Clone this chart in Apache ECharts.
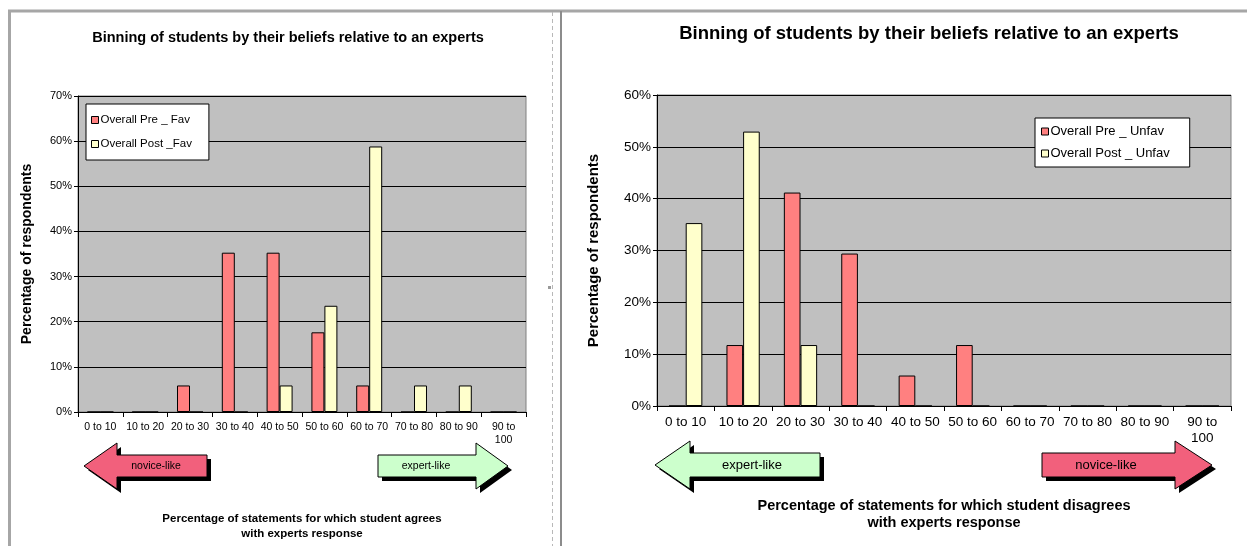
<!DOCTYPE html>
<html><head><meta charset="utf-8">
<script src="https://cdn.jsdelivr.net/npm/echarts@6/dist/echarts.min.js"></script>
<style>html,body{margin:0;padding:0;background:#fff}#chart{width:1247px;height:546px}</style>
</head><body><div id="chart"></div>
<script>
// Score bins (percentage of statements)
const bins = ['0 to 10','10 to 20','20 to 30','30 to 40','40 to 50','50 to 60','60 to 70','70 to 80','80 to 90','90 to 100'];
// Favourable (agree with experts) — percent of respondents
const preFav  = [0, 0, 5.88, 35.29, 35.29, 17.65, 5.88, 0, 0, 0];
const postFav = [0, 0, 0, 0, 5.88, 23.53, 58.82, 5.88, 5.88, 0];
// Unfavourable (disagree with experts) — percent of respondents
const preUnfav  = [0, 11.76, 41.18, 29.41, 5.88, 11.76, 0, 0, 0, 0];
const postUnfav = [35.29, 52.94, 11.76, 0, 0, 0, 0, 0, 0, 0];
const favTicks = { max: 70, interval: 10 };
const unfavTicks = { max: 60, interval: 10 };

const FONT = '"Liberation Sans", Arial, sans-serif';
const PRE = '#FF8080', POST = '#FFFFCC', NOVICE = '#F2607C', EXPERT = '#CCFFCC';

const chart = echarts.init(document.getElementById('chart'), null, { renderer: 'canvas' });

function binLabel(v) { return v.length > 8 ? v.replace(/ (\d+)$/, '\n$1') : v; }

function xAxisCfg(gridIndex, fs, name, nameGap, nameFs) {
  return {
    type: 'category', gridIndex, data: bins,
    axisLine: { lineStyle: { color: '#000', width: 1 } },
    axisTick: { show: true, length: 5, lineStyle: { color: '#000' } },
    axisLabel: { interval: 0, color: '#000', fontFamily: FONT, fontSize: fs, margin: 8, formatter: binLabel, lineHeight: fs + 3 },
    name, nameLocation: 'middle', nameGap,
    nameTextStyle: { color: '#000', fontFamily: FONT, fontSize: nameFs, fontWeight: 'bold', lineHeight: nameFs + 3 }
  };
}
function yAxisCfg(gridIndex, ticks, fs, nameGap, nameFs) {
  return {
    type: 'value', gridIndex, min: 0, max: ticks.max, interval: ticks.interval,
    axisLine: { show: true, lineStyle: { color: '#000', width: 1 } },
    axisTick: { show: true, length: 4, lineStyle: { color: '#000' } },
    axisLabel: { formatter: '{value}%', color: '#000', fontFamily: FONT, fontSize: fs, margin: 6 },
    splitLine: { show: true, lineStyle: { color: '#000', width: 1 } },
    name: 'Percentage of respondents', nameLocation: 'middle', nameGap,
    nameTextStyle: { color: '#000', fontFamily: FONT, fontSize: nameFs, fontWeight: 'bold' }
  };
}
function barSeries(name, data, color, idx) {
  return {
    type: 'bar', name, data, xAxisIndex: idx, yAxisIndex: idx,
    barGap: '0%', barCategoryGap: '42%',
    itemStyle: { color, borderColor: '#000', borderWidth: 1 },
    emphasis: { disabled: true }
  };
}

// Block arrow polygon: tip at tipX, head base at headX, tail end at tailX
function arrow(tipX, headX, tailX, yc, headHalf, bodyHalf, fill, label, fs, textX) {
  const pts = [[tipX, yc], [headX, yc - headHalf], [headX, yc - bodyHalf], [tailX, yc - bodyHalf],
               [tailX, yc + bodyHalf], [headX, yc + bodyHalf], [headX, yc + headHalf]];
  return [
    { type: 'polygon', shape: { points: pts.map(p => [p[0] + 4, p[1] + 4]) }, style: { fill: '#000' }, silent: true },
    { type: 'polygon', shape: { points: pts }, style: { fill, stroke: '#000', lineWidth: 1 }, silent: true },
    { type: 'text', x: textX, y: yc, style: { text: label, fill: '#000', font: fs + 'px ' + FONT, align: 'center', verticalAlign: 'middle' }, silent: true }
  ];
}

const frame = [
  { type: 'line', shape: { x1: 8, y1: 11, x2: 1247, y2: 11 }, style: { stroke: '#A6A6A6', lineWidth: 3 }, silent: true },
  { type: 'line', shape: { x1: 9.5, y1: 11, x2: 9.5, y2: 546 }, style: { stroke: '#A6A6A6', lineWidth: 3 }, silent: true },
  { type: 'line', shape: { x1: 552.5, y1: 12, x2: 552.5, y2: 546 }, style: { stroke: '#B8B8B8', lineWidth: 1, lineDash: [4, 3] }, silent: true },
  { type: 'line', shape: { x1: 561, y1: 11, x2: 561, y2: 546 }, style: { stroke: '#8C8C8C', lineWidth: 2 }, silent: true },
  { type: 'rect', shape: { x: 548, y: 286, width: 3, height: 3 }, style: { fill: '#999' }, silent: true }
];

const option = {
  animation: false,
  backgroundColor: '#fff',
  textStyle: { fontFamily: FONT },
  title: [
    { text: 'Binning of students by their beliefs relative to an experts', left: 283, top: 25, textAlign: 'center',
      textStyle: { fontFamily: FONT, fontSize: 14.5, fontWeight: 'bold', color: '#000' } },
    { text: 'Binning of students by their beliefs relative to an experts', left: 924, top: 19, textAlign: 'center',
      textStyle: { fontFamily: FONT, fontSize: 18.5, fontWeight: 'bold', color: '#000' } }
  ],
  legend: [
    { data: ['Overall Pre _ Fav', 'Overall Post _Fav'], orient: 'vertical', left: 86, top: 104,
      backgroundColor: '#fff', borderColor: '#000', borderWidth: 1, padding: [10, 17, 10, 5], itemGap: 12,
      itemWidth: 7, itemHeight: 7, icon: 'rect', itemStyle: { borderColor: '#000', borderWidth: 1 },
      textStyle: { fontFamily: FONT, fontSize: 11.5, color: '#000', padding: [0, 0, 0, -3] }, selectedMode: false },
    { data: ['Overall Pre _ Unfav', 'Overall Post _ Unfav'], orient: 'vertical', left: 1035, top: 118,
      backgroundColor: '#fff', borderColor: '#000', borderWidth: 1, padding: [7, 20, 7, 6], itemGap: 9,
      itemWidth: 7, itemHeight: 7, icon: 'rect', itemStyle: { borderColor: '#000', borderWidth: 1 },
      textStyle: { fontFamily: FONT, fontSize: 13, color: '#000', padding: [0, 0, 0, -3] }, selectedMode: false }
  ],
  grid: [
    { left: 78, top: 96, width: 448, height: 316, show: true, backgroundColor: '#C0C0C0', borderColor: '#808080', borderWidth: 1 },
    { left: 657, top: 95, width: 574, height: 311, show: true, backgroundColor: '#C0C0C0', borderColor: '#808080', borderWidth: 1 }
  ],
  xAxis: [
    xAxisCfg(0, 10.5, 'Percentage of statements for which student agrees\nwith experts response', 100, 11.5),
    xAxisCfg(1, 13.5, 'Percentage of statements for which student disagrees\nwith experts response', 91, 14.5)
  ],
  yAxis: [
    yAxisCfg(0, favTicks, 11, 44, 14),
    yAxisCfg(1, unfavTicks, 13.5, 56, 15)
  ],
  series: [
    barSeries('Overall Pre _ Fav', preFav, PRE, 0),
    barSeries('Overall Post _Fav', postFav, POST, 0),
    barSeries('Overall Pre _ Unfav', preUnfav, PRE, 1),
    barSeries('Overall Post _ Unfav', postUnfav, POST, 1)
  ],
  graphic: [].concat(
    frame,
    arrow(84, 117, 207, 466, 23, 11, NOVICE, 'novice-like', 10.5, 156),
    arrow(508, 476, 378, 466, 23, 11, EXPERT, 'expert-like', 10.5, 426),
    arrow(655, 690, 820, 465, 24, 12, EXPERT, 'expert-like', 13, 752),
    arrow(1212, 1175, 1042, 465, 24, 12, NOVICE, 'novice-like', 13, 1106)
  )
};
chart.setOption(option);
</script>
</body></html>
